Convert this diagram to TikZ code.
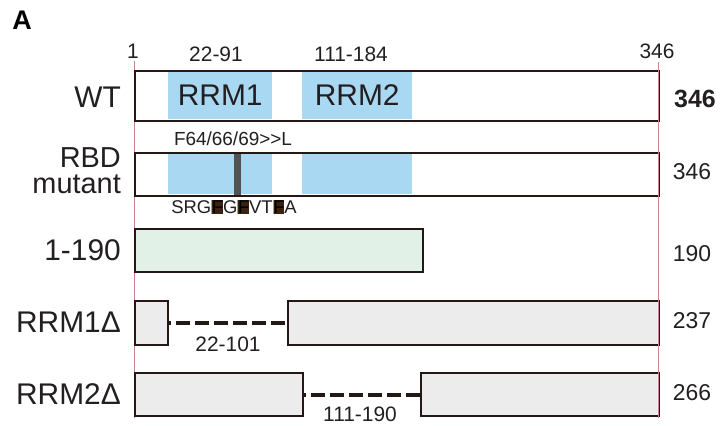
\documentclass[tikz,border=0pt]{standalone}
\usepackage{fontspec}
\setmainfont{Liberation Sans}
\definecolor{rrmblue}{HTML}{A9D9F2}
\definecolor{lgreen}{HTML}{E2F1E8}
\definecolor{lgray}{HTML}{ECECEC}
\definecolor{redline}{HTML}{C9868C}
\definecolor{edge}{HTML}{231815}
\definecolor{txt}{HTML}{231F20}
\definecolor{mutbox}{HTML}{3A2212}
\definecolor{mutedge}{HTML}{6FB3DE}
\newcommand{\fs}[1]{\fontsize{#1}{#1}\selectfont}
\newcommand{\mutF}{{\textcolor{mutedge}{\rule[-0.6pt]{0.9pt}{14.2pt}}\setlength{\fboxsep}{0.6pt}\colorbox{mutbox}{\hspace{-0.8pt}\textcolor{black}{F}\hspace{-0.8pt}}}}
\begin{document}
\begin{tikzpicture}[x=1bp,y=-1bp,
  protbox/.style={draw=edge, line width=2bp, inner sep=0, anchor=north west},
  rrmdom/.style={fill=rrmblue, draw=none, inner sep=0, anchor=north west},
  leftlab/.style={anchor=east, inner sep=0, text=txt, font=\fs{30}},
  rightlab/.style={anchor=center, inner sep=0, text=txt, font=\fs{23}},
  poslab/.style={anchor=center, inner sep=0, text=txt, font=\fs{21}},
  domlab/.style={anchor=center, inner sep=0, text=txt, font=\fs{30}},
  gapline/.style={draw=edge, line width=4bp, dash pattern=on 14bp off 5bp},
  refline/.style={draw=redline, line width=1bp}]
\fill[white] (0,0) rectangle (723,425);
\useasboundingbox (0,0) rectangle (723,425);

% panel letter
\node[anchor=center, inner sep=0, font=\fs{27}\bfseries] (panel) at (22,20) {A};

% reference lines
\coordinate (l1top) at (134,61);
\coordinate (l1bot) at (134,418);
\draw[refline] (l1top) -- (l1bot);

% position labels
\node[poslab] (p1) at (133,51) {1};
\node[poslab] (p2291) at (216,54) {22-91};
\node[poslab] (p111) at (351,54) {111-184};
\node[poslab] (p346) at (657,51) {346};

% WT
\node[protbox, fill=white, minimum width=524bp, minimum height=50bp] (wt) at (134,70) {};
\node[rrmdom, minimum width=104bp, minimum height=48bp] (wtr1) at (168,71) {};
\node[rrmdom, minimum width=110bp, minimum height=48bp] (wtr2) at (302,71) {};
\node[domlab] (wtr1t) at (wtr1.center) {RRM1};
\node[domlab] (wtr2t) at (wtr2.center) {RRM2};
\node[protbox, minimum width=524bp, minimum height=50bp] (wto) at (134,70) {};
\node[leftlab] (wtl) at (121,97) {WT};
\node[rightlab, font=\fs{25}\bfseries] (wtn) at (695,99) {346};

% RBD mutant
\node[protbox, fill=white, minimum width=524bp, minimum height=43bp] (rbd) at (134,152) {};
\node[rrmdom, minimum width=104bp, minimum height=41bp] (rbr1) at (168,153) {};
\node[rrmdom, minimum width=110bp, minimum height=41bp] (rbr2) at (302,153) {};
\node[fill=black!68, draw=none, inner sep=0, anchor=north west, minimum width=7bp, minimum height=43bp] (bar) at (234,152) {};
\node[protbox, minimum width=524bp, minimum height=43bp] (rbdo) at (134,152) {};
\node[anchor=center, inner sep=0, text=txt, font=\fs{19}] (mutl) at (233,139) {F64/66/69>{}>L};
\node[anchor=center, inner sep=0, text=txt, font=\fs{18.5}] (seq) at (234,207)
  {SRG\mutF G\mutF VT\mutF A};
\node[leftlab, align=right, font=\fontsize{29}{26}\selectfont] (rbdl) at (121,171) {RBD\\mutant};
\node[rightlab] (rbdn) at (692,172) {346};

% 1-190
\node[protbox, fill=lgreen, minimum width=288bp, minimum height=43bp] (t190) at (134,228) {};
\node[leftlab] (t190l) at (121,250) {1-190};
\node[rightlab] (t190n) at (692,254) {190};

% RRM1 delta
\node[protbox, fill=lgray, minimum width=33bp, minimum height=44bp] (d1a) at (134,300) {};
\node[protbox, fill=lgray, minimum width=371bp, minimum height=44bp] (d1b) at (287,300) {};
\draw[gapline, dash phase=12bp] (d1a.east) -- (d1b.west);
\node[poslab] (d1g) at (228,344) {22-101};
\node[leftlab] (d1l) at (121,322) {RRM1Δ};
\node[rightlab] (d1n) at (692,321) {237};

% RRM2 delta
\node[protbox, fill=lgray, minimum width=168bp, minimum height=43bp] (d2a) at (134,372) {};
\node[protbox, fill=lgray, minimum width=238bp, minimum height=43bp] (d2b) at (420,372) {};
\draw[gapline, dash phase=12bp] (d2a.east) -- (d2b.west);
\node[poslab] (d2g) at (360,414) {111-190};
\node[leftlab] (d2l) at (121,394) {RRM2Δ};
\node[rightlab] (d2n) at (692,393) {266};

% right reference line (on top)
\coordinate (l2top) at (658,62);
\coordinate (l2bot) at (658,418);
\draw[refline] (l2top) -- (l2bot);
\end{tikzpicture}
\end{document}
